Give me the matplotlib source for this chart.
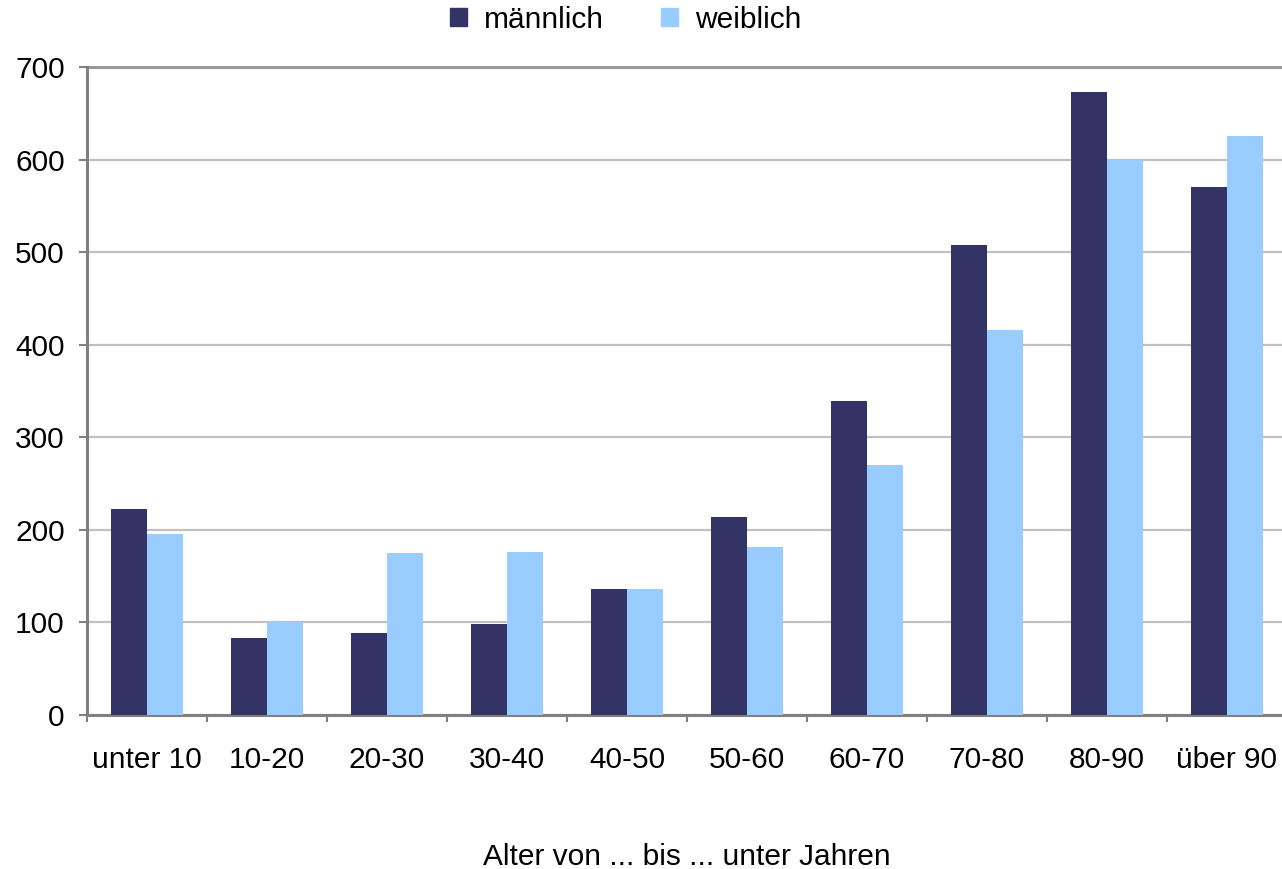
import matplotlib
matplotlib.use("Agg")
import matplotlib.pyplot as plt
import numpy as np
from matplotlib.patches import Patch
from matplotlib.ticker import FixedLocator, MultipleLocator

AGE_GROUPS = ["unter 10", "10-20", "20-30", "30-40", "40-50",
              "50-60", "60-70", "70-80", "80-90", "über 90"]
MALE = [222, 83, 89, 98, 136, 214, 339, 508, 673, 570]
FEMALE = [196, 100, 175, 176, 136, 181, 270, 416, 600, 626]

DARK = "#333366"
LIGHT = "#99ccff"
GRID = "#c0c0c0"
AXIS = "#808080"

plt.rcParams["font.family"] = ["Liberation Sans", "DejaVu Sans"]
plt.rcParams["font.size"] = 21.5

fig = plt.figure(figsize=(12.82, 8.69), dpi=100)
ax = fig.add_axes([87 / 1282, 1 - 715 / 869, 1200 / 1282, 648 / 869])

x = np.arange(len(AGE_GROUPS))
w = 0.3
ax.bar(x - w / 2, MALE, width=w, color=DARK, zorder=3)
ax.bar(x + w / 2, FEMALE, width=w, color=LIGHT, zorder=3)

ax.set_xlim(-0.5, len(AGE_GROUPS) - 0.5)
ax.set_ylim(0, 700)
ax.yaxis.set_major_locator(MultipleLocator(100))
ax.grid(axis="y", color=GRID, lw=1.6, zorder=0)

ax.set_xticks(x, AGE_GROUPS)
ax.xaxis.set_minor_locator(FixedLocator(np.arange(-0.5, len(AGE_GROUPS), 1.0)))
ax.tick_params(axis="x", which="major", length=0, pad=22)
ax.tick_params(axis="x", which="minor", length=5, width=1.5, color=AXIS)
ax.tick_params(axis="y", length=6, width=1.5, color=AXIS, pad=10)

for side in ("top", "right"):
    ax.spines[side].set_visible(False)
for side in ("left", "bottom"):
    ax.spines[side].set_color(AXIS)
    ax.spines[side].set_linewidth(2.2)
ax.axhline(700, color="#999999", lw=2.2, zorder=2, clip_on=False)

# axis title sits well below the category labels
fig.text(687 / 1282, 1 - 857 / 869, "Alter von ... bis ... unter Jahren",
         ha="center", va="center")

handles = [Patch(color=DARK, label="männlich"), Patch(color=LIGHT, label="weiblich")]
fig.legend(handles=handles, loc="center", bbox_to_anchor=(626 / 1282, 1 - 20 / 869),
           ncol=2, frameon=False, handlelength=0.55, handleheight=0.55,
           handletextpad=0.6, columnspacing=1.9)

fig.savefig("out.png", dpi=100)
